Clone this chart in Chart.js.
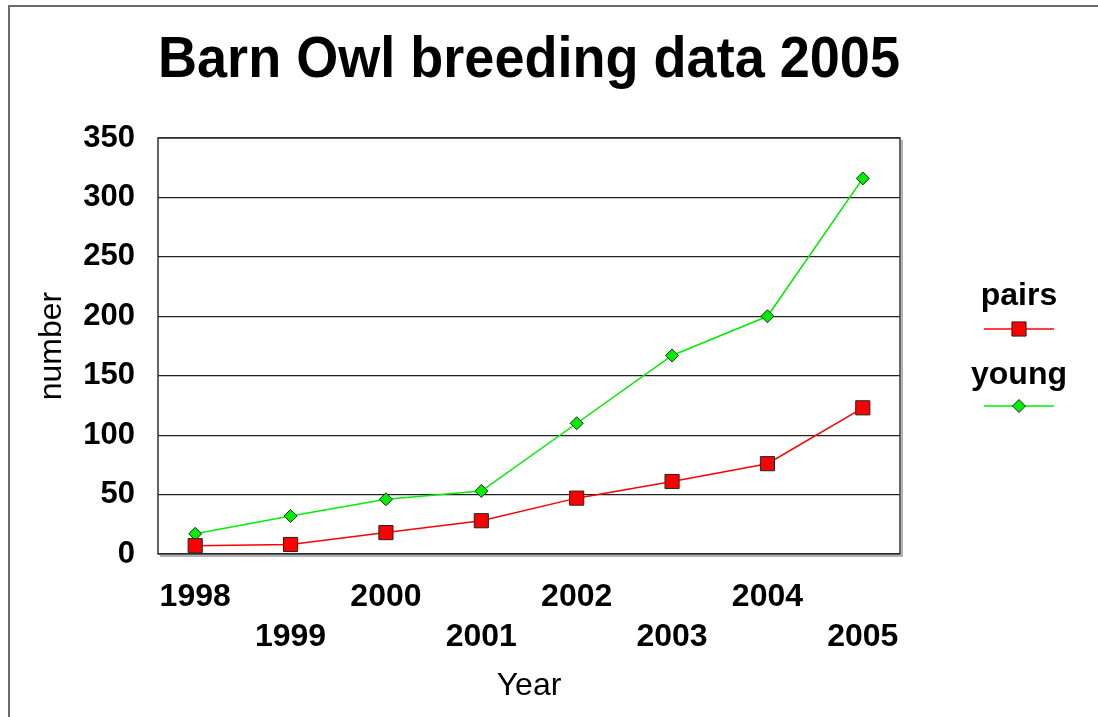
<!DOCTYPE html>
<html>
<head>
<meta charset="utf-8">
<title>Barn Owl breeding data 2005</title>
<script src="https://cdn.jsdelivr.net/npm/chart.js@4/dist/chart.umd.min.js"></script>
<style>
  html, body { margin: 0; padding: 0; background: #fff; }
  #wrap { position: relative; width: 1098px; height: 717px; overflow: hidden; }
  #frame {
    position: absolute; left: 8px; top: 5px; right: -10px; bottom: -10px;
    border-left: 2px solid #6b6b6b; border-top: 2px solid #6b6b6b;
  }
  #chart { position: absolute; left: 0; top: 0; }
</style>
</head>
<body>
<div id="wrap">
  <div id="frame"></div>
  <canvas id="chart" width="1098" height="717"></canvas>
</div>
<script>
// data
const years = [1998, 1999, 2000, 2001, 2002, 2003, 2004, 2005];
const pairs = [7, 8, 18, 28, 47, 61, 76, 123];
const young = [17, 32, 46, 53, 110, 167, 200, 316];
const yTicks = [0, 50, 100, 150, 200, 250, 300, 350];

const FONT = "'Liberation Sans', Arial, Helvetica, sans-serif";

// frame round the plot area, with the grey drop line on the right and bottom
const plotFrame = {
  id: 'plotFrame',
  afterDatasetsDraw(chart) {
    const { ctx, chartArea: a } = chart;
    ctx.save();
    ctx.strokeStyle = '#9a9a9a';
    ctx.lineWidth = 1.5;
    ctx.beginPath();
    ctx.moveTo(a.right + 2, a.top + 2);
    ctx.lineTo(a.right + 2, a.bottom + 2);
    ctx.lineTo(a.left + 2, a.bottom + 2);
    ctx.stroke();
    ctx.strokeStyle = '#333';
    ctx.lineWidth = 1.5;
    ctx.strokeRect(a.left, a.top, a.right - a.left, a.bottom - a.top);
    ctx.restore();
  }
};

// legend: name on top, line sample with marker below
const stackedLegend = {
  id: 'stackedLegend',
  afterDraw(chart) {
    const { ctx, chartArea: a } = chart;
    const cx = a.right + 119;
    ctx.save();
    chart.data.datasets.forEach((ds, i) => {
      const ty = 296 + i * 79;
      const ly = 329 + i * 77;
      ctx.font = 'bold 32px ' + FONT;
      ctx.fillStyle = '#000';
      ctx.textAlign = 'center';
      ctx.textBaseline = 'middle';
      ctx.fillText(ds.label, cx, ty);

      ctx.strokeStyle = ds.borderColor;
      ctx.lineWidth = ds.borderWidth;
      ctx.beginPath();
      ctx.moveTo(cx - 35, ly);
      ctx.lineTo(cx + 35, ly);
      ctx.stroke();

      const r = ds.pointRadius;
      ctx.fillStyle = ds.pointBackgroundColor;
      ctx.strokeStyle = ds.pointBorderColor;
      ctx.lineWidth = ds.pointBorderWidth;
      ctx.beginPath();
      if (ds.pointStyle === 'rectRot') {
        ctx.moveTo(cx - r, ly);
        ctx.lineTo(cx, ly - r);
        ctx.lineTo(cx + r, ly);
        ctx.lineTo(cx, ly + r);
        ctx.closePath();
      } else {
        const h = r * Math.SQRT1_2;
        ctx.rect(cx - h, ly - h, 2 * h, 2 * h);
      }
      ctx.fill();
      ctx.stroke();
    });
    ctx.restore();
  }
};

new Chart(document.getElementById('chart'), {
  type: 'line',
  data: {
    datasets: [
      {
        label: 'pairs',
        data: years.map((y, i) => ({ x: y, y: pairs[i] })),
        borderColor: '#ff0000',
        borderWidth: 1.5,
        pointStyle: 'rect',
        pointRadius: 10,
        pointHoverRadius: 10,
        pointBackgroundColor: '#ff0000',
        pointBorderColor: '#222',
        pointBorderWidth: 1,
        tension: 0
      },
      {
        label: 'young',
        data: years.map((y, i) => ({ x: y, y: young[i] })),
        borderColor: '#00ee00',
        borderWidth: 1.5,
        pointStyle: 'rectRot',
        pointRadius: 6.5,
        pointHoverRadius: 6.5,
        pointBackgroundColor: '#00ee00',
        pointBorderColor: '#222',
        pointBorderWidth: 1,
        tension: 0
      }
    ]
  },
  options: {
    responsive: false,
    animation: false,
    clip: false,
    layout: { padding: { left: 0, top: 0, right: 198, bottom: 0 } },
    plugins: {
      legend: { display: false },
      tooltip: { enabled: false },
      title: {
        display: true,
        fullSize: false,
        text: 'Barn Owl breeding data 2005',
        color: '#000',
        font: { family: FONT, size: 57, weight: 'bold', lineHeight: 1.2 },
        padding: { top: 27, bottom: 42.6 }
      }
    },
    scales: {
      x: {
        type: 'linear',
        min: 1997.61,
        max: 2005.39,
        grid: { display: false },
        border: { display: false },
        afterFit(scale) { scale.height = 163; },
        ticks: {
          stepSize: 1,
          includeBounds: false,
          autoSkip: false,
          maxRotation: 0,
          padding: 15,
          color: '#000',
          font: { family: FONT, size: 32, weight: 'bold', lineHeight: 1.25 },
          callback(value) {
            const i = years.indexOf(value);
            if (i < 0) return '';
            return i % 2 ? ['', String(years[i])] : String(years[i]);
          }
        },
        title: {
          display: true,
          text: 'Year',
          color: '#000',
          font: { family: FONT, size: 32, lineHeight: 1.2 },
          padding: { top: 0, bottom: 12 }
        }
      },
      y: {
        min: yTicks[0],
        max: yTicks[yTicks.length - 1],
        grid: { color: '#222', lineWidth: 1.2, drawTicks: false },
        border: { display: false },
        afterFit(scale) { scale.width = 158; },
        afterBuildTicks(scale) { scale.ticks = yTicks.map(v => ({ value: v })); },
        ticks: {
          padding: 23,
          color: '#000',
          font: { family: FONT, size: 31, weight: 'bold' }
        },
        title: {
          display: true,
          text: 'number',
          color: '#000',
          font: { family: FONT, size: 32, lineHeight: 1.2 },
          padding: { top: 33, bottom: 0 }
        }
      }
    }
  },
  plugins: [plotFrame, stackedLegend]
});
</script>
</body>
</html>
